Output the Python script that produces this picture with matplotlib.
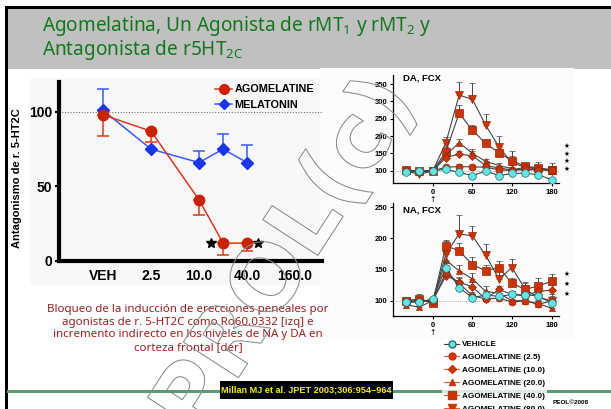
import numpy as np
import matplotlib.pyplot as plt
from matplotlib import font_manager
from matplotlib.lines import Line2D
from matplotlib.patches import Rectangle, PathPatch
from matplotlib.textpath import TextPath
from matplotlib.font_manager import FontProperties
from matplotlib.transforms import Affine2D, blended_transform_factory

# --- datos: antagonismo 5-HT2C (panel izquierdo) ---
dose_labels = ['VEH', '2.5', '10.0', '40.0', '160.0']
label_doses = [0, 2.5, 10, 40, 160]          # 0 = vehiculo
ago_doses = [0, 2.5, 10, 20, 40]
ago_mean = [98, 87, 41, 12, 12]
ago_err = [14, 7, 10, 8, 5]
mel_doses = [0, 2.5, 10, 20, 40]
mel_mean = [101, 75, 66, 75, 66]
mel_err = [14, 0, 8, 10, 12]
star_doses = [14, 55]
star_level = [12, 12]

# --- datos: microdialisis en corteza frontal (paneles derechos) ---
t_min = [-40, -20, 0, 20, 40, 60, 80, 100, 120, 140, 160, 180]

da_veh = [95, 99, 100, 104, 95, 86, 99, 86, 92, 93, 88, 74]
da_veh_err = [3, 4, 2, 4, 4, 4, 4, 4, 3, 3, 3, 3]
da_ago25 = [100, 97, 100, 110, 112, 111, 110, 103, 100, 104, 102, 103]
da_ago25_err = [3, 4, 2, 5, 6, 6, 5, 5, 4, 3, 3, 4]
da_ago10 = [101, 100, 99, 138, 148, 143, 115, 108, 102, 110, 105, 100]
da_ago10_err = [3, 3, 2, 6, 8, 15, 6, 6, 5, 4, 4, 4]
da_ago20 = [99, 96, 100, 145, 181, 150, 127, 115, 106, 102, 104, 100]
da_ago20_err = [3, 4, 2, 8, 10, 12, 8, 6, 6, 4, 4, 4]
da_ago40 = [101, 98, 100, 155, 266, 217, 179, 152, 129, 113, 108, 103]
da_ago40_err = [4, 4, 3, 12, 23, 15, 10, 12, 14, 8, 8, 6]
da_ago80 = [98, 90, 99, 181, 318, 306, 232, 169, 123, 110, 106, 101]
da_ago80_err = [4, 5, 3, 15, 37, 47, 32, 30, 35, 12, 18, 20]

na_veh = [98, 98, 103, 153, 121, 105, 109, 107, 110, 109, 108, 96]
na_veh_err = [4, 4, 3, 10, 6, 5, 5, 5, 5, 5, 5, 5]
na_ago25 = [100, 100, 100, 145, 128, 108, 103, 104, 98, 100, 94, 100]
na_ago25_err = [5, 6, 4, 12, 8, 6, 5, 6, 5, 5, 6, 8]
na_ago10 = [97, 99, 100, 140, 130, 122, 103, 118, 110, 108, 115, 117]
na_ago10_err = [5, 6, 4, 10, 8, 8, 6, 6, 6, 6, 8, 8]
na_ago20 = [93, 90, 100, 165, 148, 135, 115, 112, 100, 100, 95, 88]
na_ago20_err = [5, 6, 4, 12, 10, 10, 8, 8, 6, 6, 6, 6]
na_ago40 = [100, 103, 97, 188, 180, 158, 148, 153, 128, 118, 124, 131]
na_ago40_err = [5, 8, 4, 10, 12, 12, 10, 10, 8, 10, 12, 12]
na_ago80 = [98, 100, 98, 175, 207, 204, 173, 135, 153, 118, 105, 100]
na_ago80_err = [5, 6, 5, 20, 30, 16, 18, 16, 14, 12, 10, 10]

W, H = 611, 409
fig = plt.figure(figsize=(W / 100, H / 100), dpi=100)

names = {f.name for f in font_manager.fontManager.ttflist}
NARROW = 'Liberation Sans Narrow' if 'Liberation Sans Narrow' in names else 'Liberation Sans'
SLIDE_FONT = 'Noto Sans'
plt.rcParams['font.family'] = ['Liberation Sans', 'DejaVu Sans']


def fx(px):
    return px / W


def fy(py):
    return 1 - py / H


def box(x0, y0, x1, y1, **kw):
    r = Rectangle((fx(x0), fy(y1)), (x1 - x0) / W, (y1 - y0) / H,
                  transform=fig.transFigure, **kw)
    fig.add_artist(r)
    return r


# fondo de la diapositiva
box(8, 9, 611, 69, fc='#c0c0c0', ec='none', zorder=0)
box(5, 6, 611, 9, fc='black', ec='none', zorder=1)
box(5, 6, 8, 409, fc='black', ec='none', zorder=1)
box(30, 78, 322, 285, fc='#f8f8f8', ec='none', zorder=0)
box(320, 68, 574, 340, fc='#fcfcfc', ec='none', zorder=0)
fig.add_artist(Line2D([fx(8), 1], [fy(391), fy(391)], color='#5b9c74', lw=2.2,
                      transform=fig.transFigure, zorder=1))

# titulo
title_kw = dict(color='#12781e', fontsize=13.7, family=SLIDE_FONT, ha='left', va='baseline')
fig.text(fx(42), fy(31), r'Agomelatina, Un Agonista de rMT$\mathregular{_1}$ y rMT$\mathregular{_2}$ y', **title_kw)
fig.text(fx(42), fy(55), r'Antagonista de r5HT$\mathregular{_{2C}}$', **title_kw)

# texto explicativo
fig.text(fx(188), fy(328.5),
         'Bloqueo de la inducción de erecciones peneales por\n'
         'agonistas de r. 5-HT2C como Ro60,0332 [izq] e\n'
         'incremento indirecto en los niveles de NA y DA en\n'
         'corteza frontal [der]',
         color='#9e1f1f', fontsize=8.3, family=SLIDE_FONT, ha='center', va='center',
         linespacing=1.22)

# cita
box(220, 381, 393, 399, fc='black', ec='none', zorder=3)
fig.text(fx(306), fy(390.5), 'Millan MJ et al. JPET 2003;306:954\u2013964', color='#f0f000',
         fontsize=6.6, fontweight='bold', family=NARROW, ha='center', va='center', zorder=4)
fig.text(fx(571), fy(403), 'PEOL©2008', fontsize=4.6, fontweight='bold', ha='center',
         va='center')


# ---------- panel izquierdo ----------
def dose_pos(d):
    d = np.asarray(d, dtype=float)
    return np.where(d > 0, 1 + np.log(np.where(d > 0, d, 1) / 2.5) / np.log(4), 0)


ax = fig.add_axes([fx(59), fy(261), (322 - 59) / W, (261 - 82) / H])
ax.patch.set_alpha(0)
ax.set_xlim(-0.917, 4.56)
ax.set_ylim(0, 120)
for s in ['top', 'right']:
    ax.spines[s].set_visible(False)
for s in ['left', 'bottom']:
    ax.spines[s].set_linewidth(3)
ax.axhline(100, color='#777777', lw=0.8, ls=(0, (1, 1.5)), zorder=1)

ax.errorbar(dose_pos(mel_doses), mel_mean, yerr=[np.zeros(len(mel_err)), mel_err],
            fmt='-D', color='#3a5cff', mfc='#1a35f0', mec='#1a35f0', ms=6, lw=1.1,
            elinewidth=1.1, capsize=4, capthick=1.1, zorder=3)
ax.errorbar(dose_pos(ago_doses), ago_mean, yerr=[ago_err, np.zeros(len(ago_err))],
            fmt='-o', color='#e0381a', mfc='#cc2200', mec='#cc2200', ms=7.5, lw=1.1,
            elinewidth=1.1, capsize=4, capthick=1.1, zorder=4)
ax.plot(dose_pos(star_doses), star_level, ls='none', marker='*', color='black', ms=7, zorder=5)

ax.set_xticks(dose_pos(label_doses))
ax.set_xticklabels(dose_labels, fontsize=10, fontweight='bold')
ax.set_yticks([0, 50, 100])
ax.set_yticklabels(['0', '50', '100'], fontsize=10, fontweight='bold')
ax.tick_params(axis='x', length=0, pad=6)
ax.tick_params(axis='y', length=3, width=1.5, pad=2)
fig.text(fx(17), fy(178), 'Antagonismo de r. 5-HT2C', rotation=90, fontsize=8,
         fontweight='bold', ha='center', va='center')

left_handles = [
    Line2D([], [], color='#e0381a', marker='o', mfc='#cc2200', mec='#cc2200', ms=7, lw=1.1),
    Line2D([], [], color='#3a5cff', marker='D', mfc='#1a35f0', mec='#1a35f0', ms=5, lw=1.1),
]
fig.legend(left_handles, ['AGOMELATINE', 'MELATONIN'], loc='upper left',
           bbox_to_anchor=(fx(210), fy(79)), frameon=False, handlelength=1.5,
           handletextpad=0.25, labelspacing=0.5, borderpad=0,
           prop=dict(size=7.8, weight='bold'))

# ---------- paneles derechos ----------
series = [
    ('AGOMELATINE (80.0)', 'v', 5.5, da_ago80, da_ago80_err, na_ago80, na_ago80_err),
    ('AGOMELATINE (40.0)', 's', 5.5, da_ago40, da_ago40_err, na_ago40, na_ago40_err),
    ('AGOMELATINE (20.0)', '^', 5.0, da_ago20, da_ago20_err, na_ago20, na_ago20_err),
    ('AGOMELATINE (10.0)', 'D', 3.8, da_ago10, da_ago10_err, na_ago10, na_ago10_err),
    ('AGOMELATINE (2.5)', 'o', 5.0, da_ago25, da_ago25_err, na_ago25, na_ago25_err),
]
veh_series = ('VEHICLE', 'o', 5.5, da_veh, da_veh_err, na_veh, na_veh_err)

ago_fc = '#cc3300'
veh_fc = '#5fe6e6'


def micro_panel(rect, ylim, yticks, title, idx, stars_y):
    a = fig.add_axes(rect)
    a.patch.set_alpha(0)
    a.set_xlim(-60, 191)
    a.set_ylim(*ylim)
    for s in ['top', 'right']:
        a.spines[s].set_visible(False)
    for s in ['left', 'bottom']:
        a.spines[s].set_linewidth(0.9)
    a.axhline(100, color='#999999', lw=0.6, ls=(0, (1, 1.5)), zorder=1)
    for lab, mk, ms, *vals in series + [veh_series]:
        m = vals[idx]
        e = vals[idx + 1]
        fc = veh_fc if lab == 'VEHICLE' else ago_fc
        ec = '#2a6a6a' if lab == 'VEHICLE' else '#a02400'
        a.errorbar(t_min, m, yerr=[np.zeros(len(e)), e], fmt='-' + mk, color='#444444',
                   mfc=fc, mec=ec, mew=0.5, ms=ms, lw=0.8, elinewidth=0.7,
                   capsize=2.5, capthick=0.7, zorder=3 if lab != 'VEHICLE' else 4)
    a.set_xticks([0, 60, 120, 180])
    a.set_yticks(yticks)
    a.tick_params(labelsize=5.5, length=2.5, width=0.8, pad=1.5)
    for lbl in a.get_xticklabels() + a.get_yticklabels():
        lbl.set_fontweight('bold')
    a.text(0.06, 0.97 if idx == 0 else 0.94, title, transform=a.transAxes, fontsize=6.8,
           fontweight='bold', ha='left', va='center')
    tr = blended_transform_factory(a.transData, a.transAxes)
    a.text(0, -0.15, '\u2191', transform=tr, fontsize=5.5, ha='center', va='center',
           family='DejaVu Sans')
    for sy in stars_y:
        fig.text(fx(567), fy(sy), '\u2605', fontsize=4.8, ha='center', va='center',
                 family='DejaVu Sans')
    return a


ax_da = micro_panel([fx(393), fy(183.3), (559 - 393) / W, (183.3 - 75) / H],
                    (63.7, 376), [100, 150, 200, 250, 300, 350], 'DA, FCX', 0,
                    [146, 153.5, 161, 168.5])
ax_na = micro_panel([fx(393), fy(316), (559 - 393) / W, (316 - 203) / H],
                    (75.5, 256.6), [100, 150, 200, 250], 'NA, FCX', 2,
                    [274, 284, 294])

legend_handles = [Line2D([], [], color='#444444', marker='o', mfc=veh_fc, mec='#2a6a6a',
                         ms=5, lw=0.8)]
legend_labels = ['VEHICLE']
for lab, mk, ms, *vals in series[::-1]:
    legend_handles.append(Line2D([], [], color='#e06040', marker=mk, mfc=ago_fc,
                                 mec=ago_fc, ms=ms, lw=0.8))
    legend_labels.append(lab)
leg = fig.legend(legend_handles, legend_labels, loc='upper left',
                 bbox_to_anchor=(fx(438), fy(335)), frameon=True, fancybox=False,
                 handlelength=1.9, handletextpad=0.35, labelspacing=0.62, borderpad=0.2,
                 prop=dict(size=5.9, weight='bold'))
leg.get_frame().set_facecolor('white')
leg.get_frame().set_edgecolor('none')
leg.set_zorder(5)

# marca de agua
wm = TextPath((0, 0), 'PROL(c)', size=90, prop=FontProperties(family='DejaVu Sans', weight='bold'))
wm_tr = (Affine2D().rotate_deg(57).translate(198, H - 440).scale(1 / W, 1 / H)
         + fig.transFigure)
fig.add_artist(PathPatch(wm, fc='none', ec='#8a8a8a', lw=0.75, transform=wm_tr, zorder=10))

fig.savefig('out.png', dpi=100)
